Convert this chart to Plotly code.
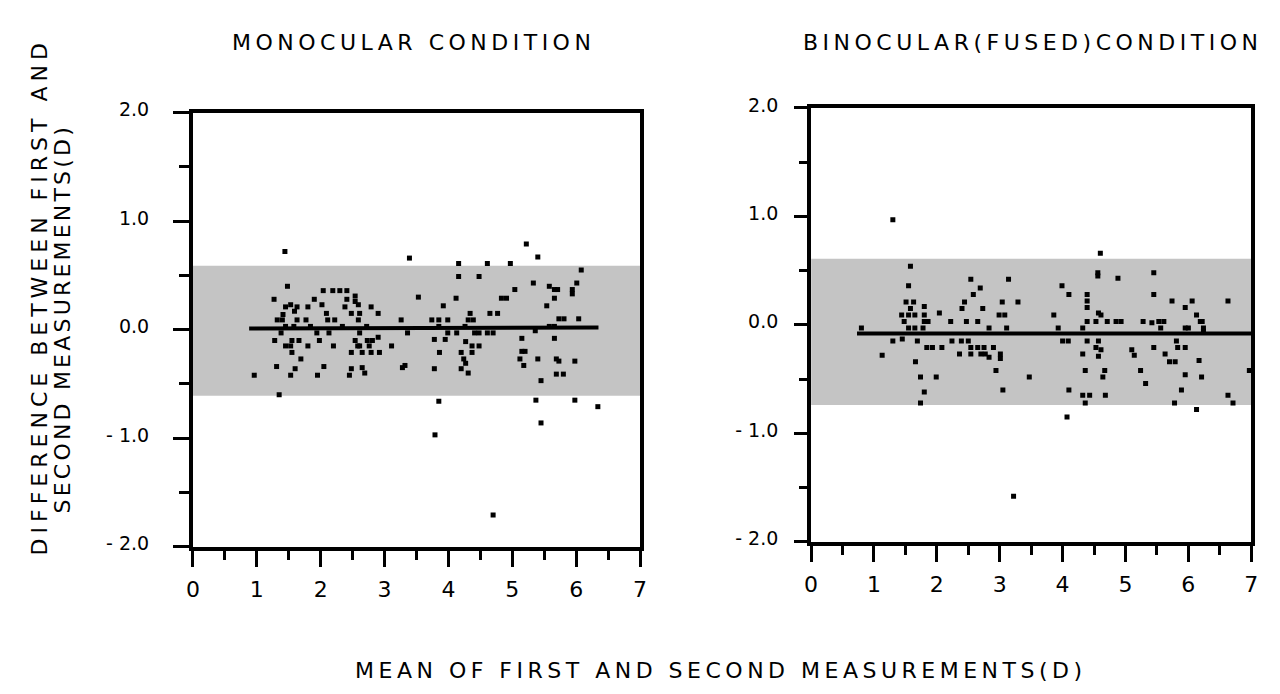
import plotly.graph_objects as go

# ---------------- data ----------------
mono_x = [1.44,3.39,1.48,2.04,2.19,2.30,2.41,1.27,1.90,2.41,2.54,2.54,3.53,1.45,1.53,1.63,1.80,2.02,2.38,2.59,2.79,1.59,1.41,2.09,2.48,2.61,2.90,1.32,1.40,1.63,1.77,2.11,2.22,2.59,3.26,1.45,1.58,1.84,2.34,2.72,1.38,1.94,2.13,2.61,3.36,1.28,1.55,1.66,1.98,2.54,2.73,2.81,2.90,1.45,1.53,1.80,2.20,2.58,2.61,2.76,3.11,1.55,2.48,2.65,2.79,2.92,1.69,1.31,1.60,2.05,2.48,2.65,2.69,3.28,3.32,0.96,1.53,1.95,2.45,1.35,
          4.16,4.61,4.97,5.40,4.16,4.48,6.08,6.01,5.33,5.58,5.66,5.71,5.94,5.94,5.04,5.66,4.83,4.91,4.12,3.92,5.54,4.34,4.65,4.77,3.74,3.85,3.99,4.31,4.39,5.73,5.81,6.04,3.85,4.26,5.58,5.66,3.99,4.13,4.41,4.48,4.61,4.70,5.36,3.78,3.95,5.15,5.66,4.27,4.37,4.48,3.86,4.20,4.37,5.15,5.20,5.12,5.40,5.69,5.73,5.98,4.24,4.27,5.18,3.78,4.20,4.31,5.69,5.80,5.45,3.85,5.37,5.98,6.34,
          5.22,3.79,4.70,5.45]
mono_y = [0.72,0.66,0.40,0.36,0.36,0.36,0.36,0.28,0.28,0.28,0.31,0.26,0.30,0.21,0.23,0.21,0.21,0.23,0.21,0.23,0.21,0.17,0.14,0.15,0.15,0.15,0.15,0.09,0.09,0.09,0.09,0.09,0.09,0.09,0.09,0.03,0.03,0.03,0.03,0.03,-0.03,-0.03,-0.03,-0.03,-0.03,-0.10,-0.10,-0.10,-0.10,-0.10,-0.10,-0.10,-0.07,-0.15,-0.15,-0.15,-0.15,-0.15,-0.15,-0.15,-0.15,-0.21,-0.21,-0.21,-0.21,-0.21,-0.27,-0.34,-0.36,-0.34,-0.36,-0.35,-0.40,-0.35,-0.33,-0.42,-0.42,-0.42,-0.42,-0.60,
          0.61,0.61,0.61,0.67,0.49,0.49,0.55,0.43,0.43,0.40,0.37,0.37,0.37,0.33,0.37,0.29,0.29,0.29,0.29,0.22,0.22,0.15,0.15,0.15,0.09,0.09,0.09,0.09,0.09,0.10,0.10,0.10,0.03,0.03,0.03,0.03,-0.03,-0.03,-0.03,-0.03,-0.03,-0.03,-0.01,-0.09,-0.09,-0.08,-0.08,-0.11,-0.15,-0.15,-0.21,-0.21,-0.21,-0.20,-0.20,-0.27,-0.27,-0.27,-0.29,-0.29,-0.27,-0.31,-0.33,-0.36,-0.36,-0.40,-0.41,-0.41,-0.47,-0.66,-0.65,-0.65,-0.71,
          0.79,-0.97,-1.71,-0.86]

bino_x = [1.30,1.58,1.55,2.54,3.14,2.69,2.58,1.51,1.63,2.44,3.04,3.29,1.58,1.80,2.40,2.73,1.44,1.55,1.65,1.80,2.04,2.99,3.08,1.48,1.80,1.86,2.22,2.47,2.65,0.80,1.55,1.65,1.78,2.83,3.11,1.30,1.45,1.69,2.24,2.39,2.50,1.84,1.93,2.08,2.54,2.65,2.75,2.90,1.13,2.36,2.54,2.70,2.77,2.83,3.01,3.01,1.66,2.94,1.74,1.99,3.47,1.80,3.05,1.74,
          4.60,4.56,4.56,4.88,5.45,3.99,4.10,4.39,5.45,4.39,5.74,6.06,6.63,4.39,5.95,3.86,4.57,4.61,6.13,4.39,4.53,4.71,4.85,4.93,5.28,5.42,5.53,5.61,6.19,6.22,3.93,4.32,5.56,5.95,6.00,6.24,6.24,4.00,4.09,4.39,4.57,5.81,4.53,4.61,5.10,5.14,5.45,5.83,5.95,4.32,4.57,5.63,5.70,5.79,6.17,4.36,4.67,5.24,5.95,6.21,4.64,6.97,5.32,4.10,5.89,4.32,4.43,4.68,4.36,5.78,6.63,6.71,6.13,4.07,3.22]
bino_y = [0.97,0.54,0.36,0.42,0.42,0.34,0.28,0.21,0.21,0.21,0.21,0.21,0.15,0.17,0.15,0.15,0.09,0.09,0.09,0.09,0.11,0.09,0.09,0.03,0.03,0.03,0.03,0.03,0.03,-0.03,-0.03,-0.03,-0.03,-0.03,-0.03,-0.15,-0.13,-0.15,-0.15,-0.15,-0.15,-0.21,-0.21,-0.21,-0.21,-0.21,-0.21,-0.21,-0.28,-0.27,-0.27,-0.27,-0.27,-0.30,-0.27,-0.31,-0.34,-0.42,-0.48,-0.48,-0.48,-0.62,-0.60,-0.72,
          0.66,0.48,0.45,0.43,0.48,0.36,0.28,0.28,0.28,0.22,0.22,0.22,0.22,0.16,0.16,0.09,0.11,0.09,0.09,0.03,0.03,0.03,0.03,0.03,0.03,0.02,0.03,0.03,0.03,0.03,-0.03,-0.03,-0.03,-0.03,-0.03,-0.03,-0.06,-0.15,-0.15,-0.15,-0.15,-0.15,-0.21,-0.23,-0.23,-0.28,-0.21,-0.21,-0.21,-0.27,-0.29,-0.27,-0.34,-0.34,-0.33,-0.42,-0.42,-0.42,-0.46,-0.48,-0.48,-0.42,-0.54,-0.60,-0.60,-0.65,-0.65,-0.65,-0.72,-0.72,-0.65,-0.72,-0.78,-0.85,-1.58]

# mean line and limits of agreement
mono_mean_x = [0.88, 6.35]
mono_mean_y = [0.01, 0.02]
mono_band = [-0.61, 0.59]
bino_mean_x = [0.73, 7.0]
bino_mean_y = [-0.08, -0.08]
bino_band = [-0.74, 0.61]

x_ticks = [0, 1, 2, 3, 4, 5, 6, 7]
y_ticks = [2.0, 1.0, 0.0, -1.0, -2.0]
y_ticktext = ["2.0", "1.0", "0.0", "- 1.0", "- 2.0"]

titles = ["MONOCULAR CONDITION", "BINOCULAR(FUSED)CONDITION"]
x_title = "MEAN OF FIRST AND SECOND MEASUREMENTS(D)"
y_title_lines = ["DIFFERENCE BETWEEN FIRST AND", "SECOND MEASUREMENTS(D)"]

# ---------------- figure ----------------
W, H = 1280, 694
FONT = "DejaVu Sans"
fig = go.Figure()

def spaced(txt, px):
    return '<span style="letter-spacing:%.1fpx">%s</span>' % (px, txt)

marker = dict(symbol="square", size=5, color="black", line=dict(width=0))
fig.add_trace(go.Scatter(x=mono_x, y=mono_y, mode="markers", marker=marker,
                         xaxis="x", yaxis="y", showlegend=False, hoverinfo="skip"))
fig.add_trace(go.Scatter(x=mono_mean_x, y=mono_mean_y, mode="lines",
                         line=dict(color="black", width=4),
                         xaxis="x", yaxis="y", showlegend=False, hoverinfo="skip"))
fig.add_trace(go.Scatter(x=bino_x, y=bino_y, mode="markers", marker=marker,
                         xaxis="x2", yaxis="y2", showlegend=False, hoverinfo="skip"))
fig.add_trace(go.Scatter(x=bino_mean_x, y=bino_mean_y, mode="lines",
                         line=dict(color="black", width=4),
                         xaxis="x2", yaxis="y2", showlegend=False, hoverinfo="skip"))

band_color = "#c4c4c4"
fig.add_shape(type="rect", xref="x", yref="y", x0=0, x1=7, y0=mono_band[0], y1=mono_band[1],
              fillcolor=band_color, line=dict(width=0), layer="below")
fig.add_shape(type="rect", xref="x2", yref="y2", x0=0, x1=7, y0=bino_band[0], y1=bino_band[1],
              fillcolor=band_color, line=dict(width=0), layer="below")

def xaxis(domain, anchor):
    return dict(domain=domain, anchor=anchor, range=[0, 7], tickvals=x_ticks,
                ticks="outside", ticklen=16, tickwidth=3, tickcolor="black",
                minor=dict(dtick=0.5, tick0=0, ticks="outside", ticklen=9, tickwidth=3, tickcolor="black"),
                showline=True, linewidth=4, linecolor="black", mirror=True,
                showgrid=False, zeroline=False, ticklabelstandoff=4,
                tickfont=dict(family=FONT, size=22, color="black"))

def yaxis(domain, anchor, standoff, tlen, mlen):
    return dict(domain=domain, anchor=anchor, range=[-2, 2], tickvals=y_ticks, ticktext=y_ticktext,
                ticks="outside", ticklen=tlen, tickwidth=3, tickcolor="black",
                minor=dict(dtick=0.5, tick0=0, ticks="outside", ticklen=mlen, tickwidth=3, tickcolor="black"),
                showline=True, linewidth=4, linecolor="black", mirror=True,
                showgrid=False, zeroline=False, ticklabelstandoff=standoff, ticklabelshift=-3,
                tickfont=dict(family=FONT, size=19, color="black"))

fig.update_layout(
    width=W, height=H, autosize=False,
    margin=dict(l=0, r=0, t=0, b=0),
    paper_bgcolor="white", plot_bgcolor="white",
    xaxis=xaxis([188 / W, 640 / W], "y"),
    yaxis=yaxis([1 - 550 / H, 1 - 102 / H], "x", 20, 16, 10),
    xaxis2=xaxis([813 / W, 1258 / W], "y2"),
    yaxis2=yaxis([1 - 545 / H, 1 - 97 / H], "x2", 12, 13, 8),
)

ann_font = dict(family=FONT, size=22, color="black")
fig.add_annotation(text=spaced(titles[0], 4.5), x=411 / W, y=1 - 29 / H, xref="paper", yref="paper",
                   showarrow=False, font=ann_font, xanchor="center", yanchor="middle")
fig.add_annotation(text=spaced(titles[1], 4.5), x=1037 / W, y=1 - 29 / H, xref="paper", yref="paper",
                   showarrow=False, font=ann_font, xanchor="center", yanchor="middle")
fig.add_annotation(text=spaced(x_title, 4.5), x=722 / W, y=1 - 678 / H, xref="paper", yref="paper",
                   showarrow=False, font=dict(family=FONT, size=22, color="black"),
                   xanchor="center", yanchor="middle")
fig.add_annotation(text=spaced(y_title_lines[0], 5.0), x=33 / W, y=1 - 292 / H, xref="paper", yref="paper",
                   showarrow=False, textangle=-90, font=dict(family=FONT, size=22, color="black"),
                   xanchor="center", yanchor="middle")
fig.add_annotation(text=spaced(y_title_lines[1], 3.2), x=56 / W, y=1 - 315 / H, xref="paper", yref="paper",
                   showarrow=False, textangle=-90, font=dict(family=FONT, size=22, color="black"),
                   xanchor="center", yanchor="middle")

fig.write_html("out.html", config={"displayModeBar": False},
               post_script="document.body.style.margin='0';")
